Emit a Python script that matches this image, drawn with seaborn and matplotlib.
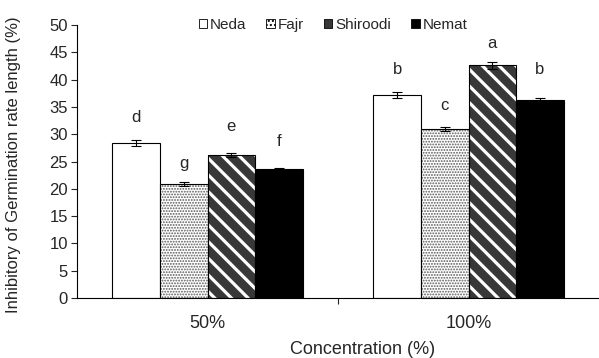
import pandas as pd
import matplotlib.pyplot as plt
import seaborn as sns
from matplotlib.patches import Patch, Rectangle
from matplotlib.transforms import ScaledTranslation

concentrations = ["50%", "100%"]
cultivars = ["Neda", "Fajr", "Shiroodi", "Nemat"]
inhibition_50 = [28.4, 20.9, 26.2, 23.6]
inhibition_100 = [37.2, 31.0, 42.6, 36.3]
err_50 = [0.5, 0.3, 0.4, 0.3]
err_100 = [0.5, 0.4, 0.6, 0.3]
letters_50 = ["d", "g", "e", "f"]
letters_100 = ["b", "c", "a", "b"]
letter_y_50 = [33.0, 24.7, 31.5, 28.6]
letter_y_100 = [41.9, 35.2, 46.7, 41.9]

rows = []
for conc, vals, errs, lets, ly in [
    ("50%", inhibition_50, err_50, letters_50, letter_y_50),
    ("100%", inhibition_100, err_100, letters_100, letter_y_100),
]:
    for cv, v, e, l, y in zip(cultivars, vals, errs, lets, ly):
        rows.append({"Concentration": conc, "Cultivar": cv, "Inhibition": v,
                     "err": e, "letter": l, "letter_y": y})
df = pd.DataFrame(rows)

sns.set_style("white")
plt.rcParams["font.family"] = ["Liberation Sans", "DejaVu Sans"]

face = {"Neda": "white", "Fajr": "white", "Shiroodi": "#383838", "Nemat": "black"}
hatch = {"Fajr": "......", "Shiroodi": "\\\\"}
hatch_col = {"Fajr": "#5a5a5a", "Shiroodi": "white"}
hatch_lw = {"Fajr": 0.9, "Shiroodi": 2.3}

fig = plt.figure(figsize=(5.99, 3.58), dpi=100)
ax = fig.add_axes([77 / 599, 1 - 298 / 358, 1 - 77 / 599, (298 - 25) / 358])

sns.barplot(data=df, x="Concentration", y="Inhibition", hue="Cultivar",
            order=concentrations, hue_order=cultivars, palette=face,
            width=0.73, errorbar=None, edgecolor="black", linewidth=0.8,
            legend=False, ax=ax)

for cv, cont in zip(cultivars, ax.containers):
    sub = df[df["Cultivar"] == cv].set_index("Concentration").loc[concentrations]
    for p, (_, r) in zip(cont.patches, sub.iterrows()):
        if cv in hatch:
            p.set_hatch(hatch[cv])
            p.set_edgecolor(hatch_col[cv])
            p.set_linewidth(0)
            if hasattr(p, "set_hatch_linewidth"):
                p.set_hatch_linewidth(hatch_lw[cv])
            ax.add_patch(Rectangle(p.get_xy(), p.get_width(), p.get_height(),
                                   fill=False, edgecolor="black", linewidth=0.8, zorder=3))
        cx = p.get_x() + p.get_width() / 2
        ax.errorbar(cx, r["Inhibition"], yerr=r["err"], color="black",
                    capsize=3.5, elinewidth=0.8, capthick=0.8, zorder=4)
        ax.text(cx, r["letter_y"], r["letter"], ha="center", va="center", fontsize=12)

ax.set_ylim(0, 50)
ax.set_yticks(range(0, 51, 5))
ax.set_xlim(-0.5, 1.5)
ax.set_xticks([0, 1])
ax.set_xticklabels(concentrations, fontsize=13)
for lab in ax.get_xticklabels():
    lab.set_transform(lab.get_transform() + ScaledTranslation(0.08, 0, fig.dpi_scale_trans))
ax.set_xticks([0.5], minor=True)
ax.tick_params(axis="x", which="major", length=0, pad=12)
ax.tick_params(axis="x", which="minor", length=4, width=0.8, direction="out", bottom=True)
ax.tick_params(axis="y", length=4.5, width=0.8, direction="out", left=True, labelsize=12, pad=2)

sns.despine(ax=ax)
for s in ["left", "bottom"]:
    ax.spines[s].set_color("black")
    ax.spines[s].set_linewidth(0.8)

ax.set_xlabel("Concentration (%)", fontsize=13, va="center")
ax.xaxis.set_label_coords((363 - 77) / 522, (298 - 349) / 273)
ax.set_ylabel("Inhibitory of Germination rate length (%)", fontsize=12, va="center")
ax.yaxis.set_label_coords((13 - 77) / 522, 0.49)

handles = []
for cv in cultivars:
    if cv == "Fajr":
        handles.append(Patch(facecolor="white", edgecolor="black", hatch="....", linewidth=0.6))
    else:
        handles.append(Patch(facecolor=face[cv], edgecolor="black", linewidth=0.6))
fig.legend(handles, cultivars, loc="center", bbox_to_anchor=(0.556, 0.93), ncol=4,
           frameon=False, fontsize=11, handlelength=0.55, handleheight=0.55,
           handletextpad=0.2, columnspacing=1.3)

fig.savefig("out.png", dpi=100)
